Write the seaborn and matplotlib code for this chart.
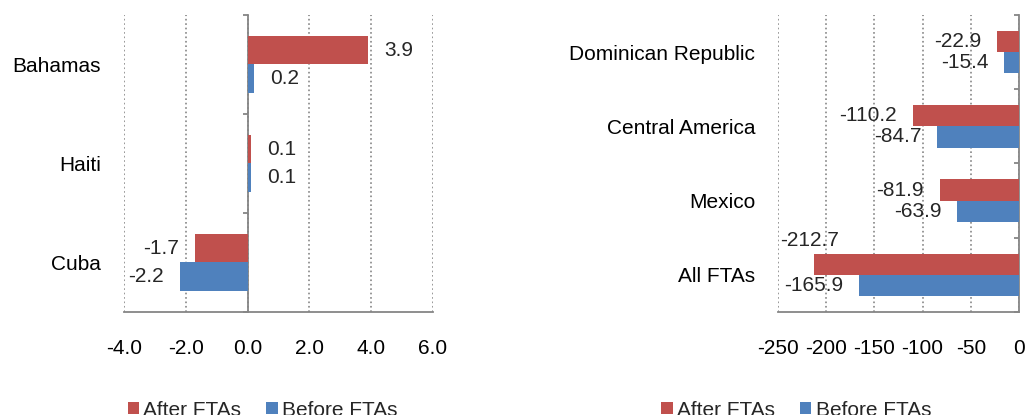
import pandas as pd
import matplotlib.pyplot as plt
import seaborn as sns
from matplotlib.patches import Patch

# --- DADOS ---
SERIES = ["After FTAs", "Before FTAs"]
COLORS = ["#C0504D", "#4F81BD"]

CARIB = ["Bahamas", "Haiti", "Cuba"]
CARIB_AFTER = [3.9, 0.1, -1.7]
CARIB_BEFORE = [0.2, 0.1, -2.2]

FTA = ["Dominican Republic", "Central America", "Mexico", "All FTAs"]
FTA_AFTER = [-22.9, -110.2, -81.9, -212.7]
FTA_BEFORE = [-15.4, -84.7, -63.9, -165.9]

GRAY = "#868686"
FS = 15


def long_df(cats, after, before):
    return pd.DataFrame({
        "cat": cats * 2,
        "valor": after + before,
        "serie": [SERIES[0]] * len(cats) + [SERIES[1]] * len(cats),
    })


def draw_panel(ax, df, cats, xlim, xticks, tick_fmt, above_if_near=None):
    sns.barplot(data=df, x="valor", y="cat", hue="serie", hue_order=SERIES,
                palette=COLORS, orient="h", width=0.57, saturation=1,
                errorbar=None, legend=False, linewidth=0, ax=ax)
    ax.set_xlim(*xlim)
    ax.set_ylim(len(cats) - 0.5, -0.5)
    ax.set_xticks(xticks)
    ax.set_xticklabels([tick_fmt.format(t) for t in xticks])
    ax.set_xlabel("")
    ax.set_ylabel("")
    ax.grid(axis="x", linestyle=":", color=GRAY, linewidth=1.2)
    ax.grid(axis="y", visible=False)
    ax.set_axisbelow(True)
    for side in ["top", "right", "left"]:
        ax.spines[side].set_visible(False)
    ax.spines["bottom"].set_color(GRAY)
    ax.spines["bottom"].set_linewidth(1.3)
    ax.tick_params(axis="x", direction="out", length=3.6, width=1.3, color=GRAY,
                   pad=16, labelsize=FS, labelcolor="black")
    ax.tick_params(axis="y", length=0, pad=16.5, labelsize=FS, labelcolor="black")

    # eixo vertical no zero com marcas entre categorias
    frac = (0 - xlim[0]) / (xlim[1] - xlim[0])
    sec = ax.secondary_yaxis(frac)
    sec.set_alignment("left")
    sec.set_yticks([i - 0.5 for i in range(len(cats) + 1)])
    sec.set_yticklabels([])
    sec.spines["left"].set_color(GRAY)
    sec.spines["left"].set_linewidth(1.3)
    sec.tick_params(axis="y", direction="out", length=3.6, width=1.3, color=GRAY)

    # rótulos de valor
    for container in ax.containers:
        for bar in container:
            val = bar.get_x() + bar.get_width()
            yc = bar.get_y() + bar.get_height() / 2
            if above_if_near is not None and val - xlim[0] < above_if_near:
                ax.annotate(f"{val:.1f}", xy=(val, bar.get_y()), xytext=(-3, 3),
                            textcoords="offset points", ha="center", va="bottom",
                            fontsize=FS)
            elif val >= 0:
                ax.annotate(f"{val:.1f}", xy=(val, yc), xytext=(11.5, 0),
                            textcoords="offset points", ha="left", va="center",
                            fontsize=FS)
            else:
                ax.annotate(f"{val:.1f}", xy=(val, yc), xytext=(-11.5, 0),
                            textcoords="offset points", ha="right", va="center",
                            fontsize=FS)


sns.set_style("white")
plt.rcParams["font.family"] = ["Liberation Sans", "DejaVu Sans"]

fig = plt.figure(figsize=(10.26, 4.15), dpi=100)
ax1 = fig.add_axes([0.1209, 0.2482, 0.3011, 0.7157])
ax2 = fig.add_axes([0.7583, 0.2482, 0.2349, 0.7157])

draw_panel(ax1, long_df(CARIB, CARIB_AFTER, CARIB_BEFORE), CARIB,
           (-4, 6), [-4, -2, 0, 2, 4, 6], "{:.1f}")
draw_panel(ax2, long_df(FTA, FTA_AFTER, FTA_BEFORE), FTA,
           (-250, 0), [-250, -200, -150, -100, -50, 0], "{:.0f}", above_if_near=60)

handles = [Patch(facecolor=c, edgecolor="none") for c in COLORS]
for xc in [0.256, 0.776]:
    fig.legend(handles, SERIES, loc="center", bbox_to_anchor=(xc, 0.012), ncol=2,
               frameon=False, handlelength=0.55, handleheight=0.55,
               handletextpad=0.2, columnspacing=1.2, borderpad=0, fontsize=FS)

fig.savefig("out.png", dpi=100)
